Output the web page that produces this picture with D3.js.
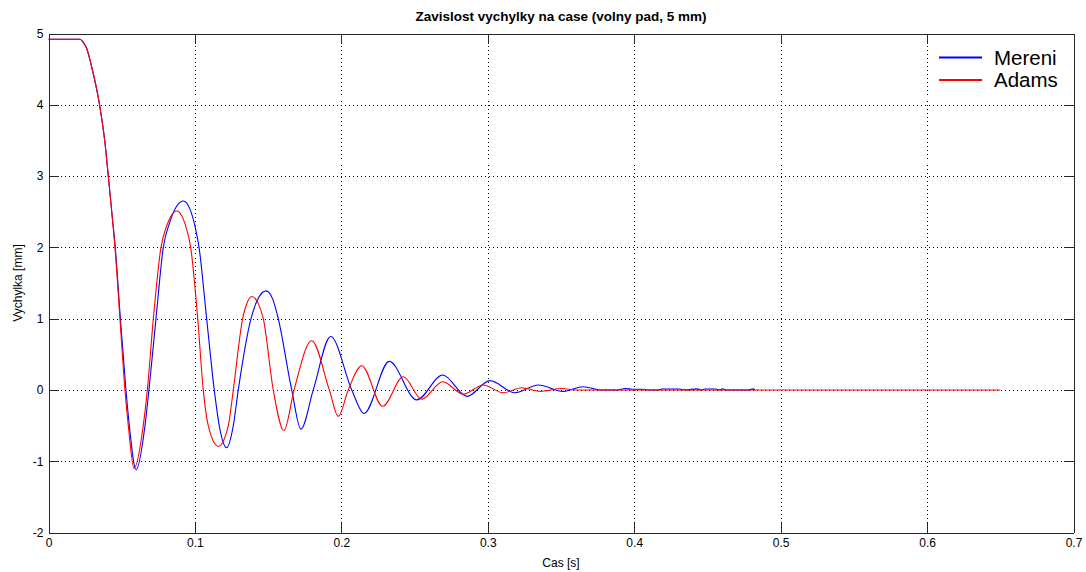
<!DOCTYPE html>
<html>
<head>
<meta charset="utf-8">
<script src="https://cdn.jsdelivr.net/npm/d3@7/dist/d3.min.js"></script>
<style>
  html, body { margin: 0; padding: 0; background: #fff; }
  svg { display: block; font-family: Arial, "Liberation Sans", sans-serif; }
</style>
</head>
<body>
<svg id="chart" width="1086" height="572"></svg>
<script>
// ---- data (time [s], deflection [mm]) ----
const seriesNames = ["Mereni", "Adams"];
const seriesColors = ["#0000ff", "#ff0000"];

const mereni = [
  [0, 4.92], [0.0215, 4.92], [0.0236, 4.88], [0.0261, 4.79], [0.0295, 4.53],
  [0.0347, 4.02], [0.0386, 3.46], [0.0408, 3.01], [0.0432, 2.50], [0.0456, 2.0],
  [0.0491, 1.0], [0.0529, 0.0], [0.0552, -0.5], [0.0598, -1.12], [0.0659, -0.5],
  [0.0686, 0.0], [0.0734, 1.0], [0.0784, 2.0], [0.0828, 2.35], [0.0876, 2.58],
  [0.0921, 2.65], [0.0963, 2.55], [0.1000, 2.3], [0.1028, 2.0],
  [0.1080, 1.0], [0.1132, 0.0], [0.1166, -0.5], [0.1217, -0.81], [0.1262, -0.5],
  [0.1296, 0.0], [0.1383, 1.0], [0.1424, 1.25], [0.1485, 1.39], [0.1532, 1.27],
  [0.1569, 1.0], [0.1661, 0.0],
  [0.1724, -0.55], [0.1808, 0.0], [0.1927, 0.75], [0.2071, 0.0], [0.2155, -0.33],
  [0.2327, 0.40], [0.2515, -0.14], [0.2692, 0.21], [0.2858, -0.09], [0.3015, 0.13],
  [0.3186, -0.04], [0.3345, 0.07], [0.3516, -0.02], [0.3652, 0.045], [0.377, 0.0],
  [0.388, 0.0], [0.394, 0.02], [0.3985, 0.01], [0.405, 0.01], [0.41, 0.0],
  [0.416, 0.0], [0.419, 0.012], [0.431, 0.012], [0.435, 0.0], [0.4427, 0.015],
  [0.446, 0.0], [0.4483, 0.012], [0.4552, 0.012], [0.458, 0.0], [0.4604, 0.015],
  [0.463, 0.0], [0.478, 0.0], [0.4813, 0.015], [0.4825, 0.0]
];

const adams = [
  [0, 4.92], [0.0215, 4.92], [0.0236, 4.88], [0.0261, 4.79], [0.0295, 4.53],
  [0.0347, 4.02], [0.0386, 3.46], [0.0408, 3.01], [0.0432, 2.50], [0.0454, 2.0],
  [0.0488, 1.0], [0.0522, 0.0], [0.0545, -0.5], [0.0584, -1.10], [0.0647, -0.5],
  [0.0675, 0.0], [0.0716, 1.0], [0.0768, 2.0], [0.0807, 2.3], [0.0840, 2.45],
  [0.0876, 2.51], [0.0920, 2.4], [0.0944, 2.25],
  [0.0971, 2.0], [0.1019, 1.0], [0.1057, 0.0], [0.1091, -0.5], [0.1160, -0.79],
  [0.1228, -0.5], [0.1262, 0.0], [0.1326, 1.0], [0.1356, 1.22], [0.1388, 1.31],
  [0.1435, 1.2], [0.1467, 1.0],
  [0.1535, 0.0], [0.1608, -0.57], [0.1677, 0.0], [0.1797, 0.69], [0.1918, 0.0],
  [0.1979, -0.37], [0.2047, 0.0], [0.2139, 0.34], [0.2282, -0.23], [0.2423, 0.185],
  [0.2549, -0.13], [0.2692, 0.115], [0.2833, -0.06], [0.2969, 0.07], [0.3106, -0.04],
  [0.3232, 0.03], [0.3357, -0.02], [0.3505, 0.02], [0.3600, 0.0], [0.65, 0.0]
];

const xTicks = [0, 0.1, 0.2, 0.3, 0.4, 0.5, 0.6, 0.7];
const yTicks = [-2, -1, 0, 1, 2, 3, 4, 5];
const xTickLabels = ["0", "0.1", "0.2", "0.3", "0.4", "0.5", "0.6", "0.7"];
const yTickLabels = ["-2", "-1", "0", "1", "2", "3", "4", "5"];

const titleText = "Zavislost vychylky na case (volny pad, 5 mm)";
const xLabelText = "Cas [s]";
const yLabelText = "Vychylka [mm]";

// ---- layout ----
const L = 48.5, R = 1073.5, T = 33.5, B = 532.5;
const svg = d3.select("#chart");
svg.append("rect").attr("width", 1086).attr("height", 572).attr("fill", "#fff");

const x = d3.scaleLinear().domain([0, 0.7]).range([L, R]);
const y = d3.scaleLinear().domain([-2, 5]).range([B, T]);

// grid
const grid = svg.append("g").attr("stroke", "#000").attr("stroke-width", 1)
  .attr("stroke-dasharray", "1,3").attr("shape-rendering", "crispEdges");
grid.selectAll("line.vx").data(xTicks.slice(1, -1)).join("line")
  .attr("x1", d => Math.round(x(d)) + 0.5).attr("x2", d => Math.round(x(d)) + 0.5)
  .attr("y1", T).attr("y2", B);
grid.selectAll("line.hy").data(yTicks.slice(1, -1)).join("line")
  .attr("y1", d => Math.round(y(d)) + 0.5).attr("y2", d => Math.round(y(d)) + 0.5)
  .attr("x1", L).attr("x2", R);

// axes (inward ticks, box)
const fmtX = d => xTickLabels[xTicks.indexOf(d)];
const fmtY = d => yTickLabels[yTicks.indexOf(d)];

function styleAxis(g) {
  g.select(".domain").attr("stroke", "#262626").attr("shape-rendering", "crispEdges");
  g.selectAll(".tick line").attr("stroke", "#262626").attr("shape-rendering", "crispEdges");
  g.selectAll(".tick text").attr("fill", "#000").style("font-size", "12px")
    .style("font-family", "Arial, 'Liberation Sans', sans-serif");
}

svg.append("g").attr("transform", `translate(0,${B})`)
  .call(d3.axisBottom(x).tickValues(xTicks).tickFormat(fmtX).tickSize(-10).tickSizeOuter(0).tickPadding(6))
  .call(styleAxis);
svg.append("g").attr("transform", `translate(0,${T})`)
  .call(d3.axisTop(x).tickValues(xTicks).tickFormat("").tickSize(-10).tickSizeOuter(0))
  .call(styleAxis);
svg.append("g").attr("transform", `translate(${L},0)`)
  .call(d3.axisLeft(y).tickValues(yTicks).tickFormat(fmtY).tickSize(-10).tickSizeOuter(0).tickPadding(5))
  .call(styleAxis);
svg.append("g").attr("transform", `translate(${R},0)`)
  .call(d3.axisRight(y).tickValues(yTicks).tickFormat("").tickSize(-10).tickSizeOuter(0))
  .call(styleAxis);

// lines
const line = d3.line().x(d => x(d[0])).y(d => y(d[1])).curve(d3.curveMonotoneX);
const allSeries = [mereni, adams];
svg.append("g").selectAll("path").data(allSeries).join("path")
  .attr("d", line)
  .attr("fill", "none")
  .attr("stroke", (d, i) => seriesColors[i])
  .attr("stroke-width", 1.1);

// title & labels
svg.append("text").attr("x", (L + R) / 2).attr("y", 21).attr("text-anchor", "middle")
  .style("font-size", "13.5px").style("font-weight", "bold").text(titleText);
svg.append("text").attr("x", (L + R) / 2).attr("y", 567).attr("text-anchor", "middle")
  .style("font-size", "12px").text(xLabelText);
svg.append("text").attr("transform", `translate(22,${(T + B) / 2}) rotate(-90)`)
  .attr("text-anchor", "middle").style("font-size", "12px").text(yLabelText);

// legend
const leg = svg.append("g");
seriesNames.forEach((name, i) => {
  const yy = 57.5 + i * 22.5;
  leg.append("line").attr("x1", 939).attr("x2", 982).attr("y1", yy).attr("y2", yy)
    .attr("stroke", seriesColors[i]).attr("stroke-width", 2);
  leg.append("text").attr("x", 994).attr("y", yy + 7)
    .style("font-size", "20.5px").attr("fill", "#000").text(name);
});
</script>
</body>
</html>
